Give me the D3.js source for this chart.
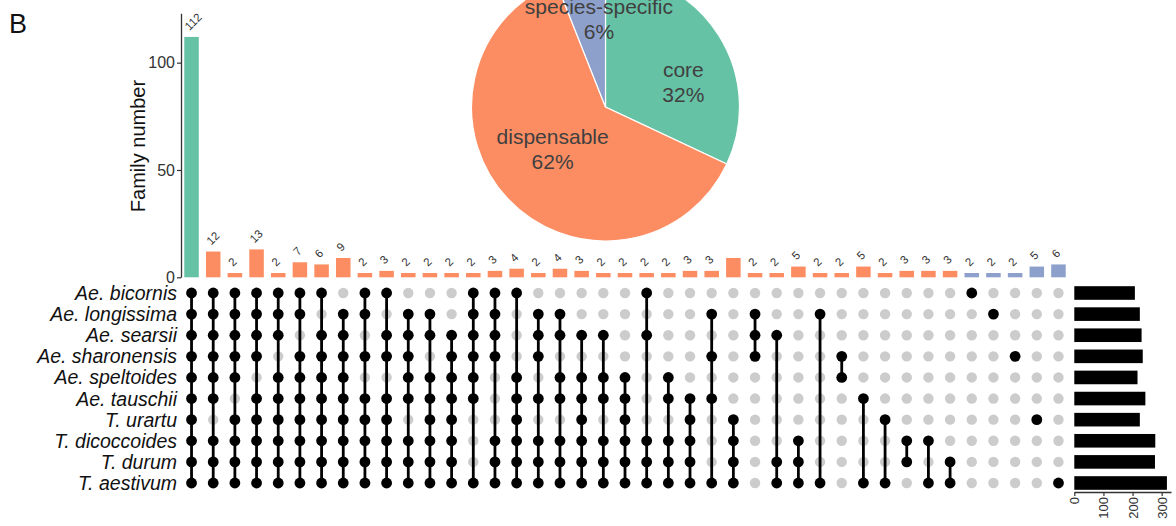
<!DOCTYPE html>
<html>
<head>
<meta charset="utf-8">
<script src="https://cdn.jsdelivr.net/npm/d3@7"></script>
<style>
  body { margin: 0; background: #fff; }
  svg { display: block; font-family: Arial, "Liberation Sans", sans-serif; }
</style>
</head>
<body>
<svg id="chart" width="1176" height="526"></svg>
<script>
// ---- data ----
const species = ["Ae. bicornis", "Ae. longissima", "Ae. searsii", "Ae. sharonensis", "Ae. speltoides",
                 "Ae. tauschii", "T. urartu", "T. dicoccoides", "T. durum", "T. aestivum"];
const setSizes = [208, 225, 231, 235, 217, 244, 225, 278, 277, 318];

const intersectionSizes = [112, 12, 2, 13, 2, 7, 6, 9, 2, 3, 2, 2, 2, 2, 3, 4, 2, 4, 3, 2, 2,
                           2, 2, 3, 3, 9, 2, 2, 5, 2, 2, 5, 2, 3, 3, 3, 2, 2, 2, 5, 6];
// species indices present in each intersection (0 = Ae. bicornis ... 9 = T. aestivum)
const intersectionMembers = [
  [0,1,2,3,4,5,6,7,8,9],
  [0,1,2,3,4,5,7,8,9],
  [0,1,2,3,4,6,7,8,9],
  [0,1,2,3,5,6,7,8,9],
  [0,1,2,4,5,6,7,8,9],
  [0,1,3,4,5,6,7,8,9],
  [0,2,3,4,5,6,7,8,9],
  [1,2,3,4,5,6,7,8,9],
  [0,1,3,5,6,7,8,9],
  [0,2,3,5,6,7,8,9],
  [1,2,3,4,5,7,8,9],
  [1,2,4,5,6,7,8,9],
  [2,3,4,5,6,7,8,9],
  [0,1,2,3,4,5,9],
  [0,1,2,3,7,8,9],
  [0,4,5,6,7,8,9],
  [1,2,3,5,7,8,9],
  [1,2,4,5,7,8,9],
  [2,4,5,6,7,8,9],
  [2,4,5,7,8,9],
  [4,5,6,7,8,9],
  [0,2,7,8,9],
  [4,5,7,8,9],
  [5,6,7,8,9],
  [1,3,5,9],
  [6,7,8,9],
  [1,2,3],
  [2,8,9],
  [7,8,9],
  [1,9],
  [3,4],
  [5,9],
  [6,9],
  [7,8],
  [7,9],
  [8,9],
  [0], [1], [3], [6], [9]
];

const familyTicks = [0, 50, 100];
const setTicks = [0, 100, 200, 300];

const pieNames = ["core", "dispensable", "species-specific"];
const piePercents = [32, 62, 6];
const groupColors = { "core": "#66c2a5", "dispensable": "#fc8d62", "species-specific": "#8da0cb" };

// ---- layout ----
const svg = d3.select("#chart");
const nCols = intersectionSizes.length;
const cols = d3.range(nCols);

const x = d3.scaleBand().domain(cols).range([180.7, 1069.3]).paddingInner(0.33).paddingOuter(0.165);
const cx = i => x(i) + x.bandwidth() / 2;
const y = d3.scaleLinear().domain([0, 123]).range([277.3, 13.3]);
const row = d3.scalePoint().domain(d3.range(species.length)).range([293, 483]);
const xs = d3.scaleLinear().domain([0, 332]).range([1074.3, 1171]);

function groupOf(i) {
  const k = intersectionMembers[i].length;
  if (k === species.length) return "core";
  if (k === 1) return "species-specific";
  return "dispensable";
}

// panel letter
svg.append("text").attr("x", 9).attr("y", 33).attr("font-size", 27).attr("fill", "#111").text("B");

// ---- intersection bars ----
const yAxis = svg.append("g").attr("transform", "translate(181,0)")
  .call(d3.axisLeft(y).tickValues(familyTicks).tickSize(4).tickSizeOuter(0));
yAxis.select(".domain").attr("stroke", "#333").attr("stroke-width", 1.3);
yAxis.selectAll(".tick line").attr("stroke", "#333").attr("stroke-width", 1.2);
yAxis.selectAll(".tick text").attr("font-size", 16).attr("font-family", "Arial, 'Liberation Sans', sans-serif")
  .attr("fill", "#333").attr("x", -6);

svg.append("text")
  .attr("transform", "translate(145,146) rotate(-90)")
  .attr("text-anchor", "middle").attr("font-size", 20).attr("fill", "#111")
  .text("Family number");

svg.append("g").selectAll("rect").data(cols).join("rect")
  .attr("x", i => x(i)).attr("width", x.bandwidth())
  .attr("y", i => y(intersectionSizes[i]))
  .attr("height", i => y(0) - y(intersectionSizes[i]))
  .attr("fill", i => groupColors[groupOf(i)]);

svg.append("g").selectAll("text").data(cols).join("text")
  .attr("transform", i => `translate(${cx(i) - 2},${y(intersectionSizes[i]) - 6}) rotate(-45)`)
  .attr("font-size", 11.5).attr("fill", "#333")
  .text(i => intersectionSizes[i]);

// ---- pie inset (drawn on its own white panel) ----
const pieCx = 605.5, pieCy = 107, pieR = 134;
svg.append("rect").attr("x", 463).attr("y", 0).attr("width", 290).attr("height", 252).attr("fill", "#fff");
const pieData = d3.pie().sort(null).value(d => d.v)(pieNames.map((n, i) => ({ n, v: piePercents[i] })));
const arc = d3.arc().innerRadius(0).outerRadius(pieR);
const pieG = svg.append("g").attr("transform", `translate(${pieCx},${pieCy})`);
pieG.selectAll("path").data(pieData).join("path")
  .attr("d", arc).attr("fill", d => groupColors[d.data.n])
  .attr("stroke", "#fff").attr("stroke-width", 1.2);

// label placement: centroid on a ring, with small nudges so text sits clear of the slice edges
const labelArc = d3.arc().innerRadius(78).outerRadius(78);
const nudges = { "core": [12, 17], "dispensable": [4, -11], "species-specific": [8, -11] };
const pieLabels = pieG.selectAll("g.lbl").data(pieData).join("g").attr("class", "lbl")
  .attr("transform", d => {
    const c = labelArc.centroid(d), o = nudges[d.data.n];
    return `translate(${c[0] + o[0]},${c[1] + o[1]})`;
  });
pieLabels.append("text").attr("text-anchor", "middle").attr("font-size", 21).attr("fill", "#404040")
  .attr("y", -5).text(d => d.data.n);
pieLabels.append("text").attr("text-anchor", "middle").attr("font-size", 21).attr("fill", "#404040")
  .attr("y", 20).text(d => d.data.v + "%");

// ---- membership matrix ----
svg.append("g").selectAll("text").data(species).join("text")
  .attr("x", 177).attr("y", (d, i) => row(i)).attr("dy", "0.36em")
  .attr("text-anchor", "end").attr("font-size", 19.5).attr("font-style", "italic").attr("fill", "#111")
  .text(d => d);

const cells = [];
cols.forEach(i => species.forEach((s, j) => cells.push({ i, j, on: intersectionMembers[i].includes(j) })));
svg.append("g").selectAll("circle").data(cells.filter(c => !c.on)).join("circle")
  .attr("cx", c => cx(c.i)).attr("cy", c => row(c.j)).attr("r", 5.2).attr("fill", "#cccccc");

svg.append("g").selectAll("line").data(cols.filter(i => intersectionMembers[i].length > 1)).join("line")
  .attr("x1", i => cx(i)).attr("x2", i => cx(i))
  .attr("y1", i => row(d3.min(intersectionMembers[i])))
  .attr("y2", i => row(d3.max(intersectionMembers[i])))
  .attr("stroke", "#000").attr("stroke-width", 2.8);

svg.append("g").selectAll("circle").data(cells.filter(c => c.on)).join("circle")
  .attr("cx", c => cx(c.i)).attr("cy", c => row(c.j)).attr("r", 5.4).attr("fill", "#000");

// ---- set size bars ----
svg.append("g").selectAll("rect").data(species).join("rect")
  .attr("x", xs(0)).attr("y", (d, i) => row(i) - 6.8).attr("height", 13.6)
  .attr("width", (d, i) => xs(setSizes[i]) - xs(0)).attr("fill", "#000");

const sAxis = svg.append("g").attr("transform", "translate(0,492)")
  .call(d3.axisBottom(xs).tickValues(setTicks).tickSize(4).tickSizeOuter(0));
sAxis.select(".domain").attr("stroke", "#333").attr("stroke-width", 1.3);
sAxis.selectAll(".tick line").attr("stroke", "#333").attr("stroke-width", 1.2);
sAxis.selectAll(".tick text")
  .attr("font-size", 13).attr("font-family", "Arial, 'Liberation Sans', sans-serif").attr("fill", "#333")
  .attr("transform", "rotate(-90)").attr("text-anchor", "end")
  .attr("x", -5).attr("y", 0).attr("dy", "0.35em");
</script>
</body>
</html>
